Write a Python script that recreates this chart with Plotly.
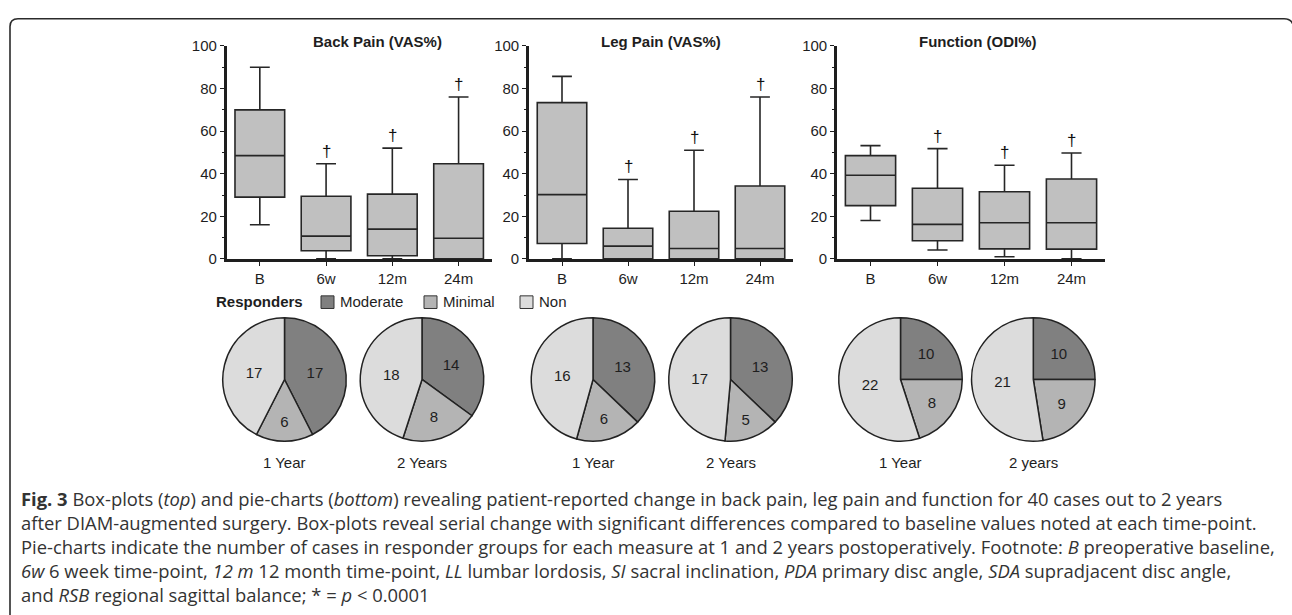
import plotly.graph_objects as go

W, H = 1292, 615

# ---------------- data ----------------
categories = ["B", "6w", "12m", "24m"]

back_lower = [16, 0, 0, 0]
back_q1 = [29, 3.8, 1.5, 0]
back_median = [48.5, 10.7, 14, 9.7]
back_q3 = [70, 29.4, 30.4, 44.7]
back_upper = [90, 44.7, 52, 76]

leg_lower = [0, 0, 0, 0]
leg_q1 = [7.2, 0, 0, 0]
leg_median = [30.2, 6, 4.9, 4.9]
leg_q3 = [73.4, 14.4, 22.4, 34.2]
leg_upper = [85.7, 37.3, 51, 76]

func_lower = [18, 4.2, 1, 0]
func_q1 = [25, 8.5, 4.7, 4.6]
func_median = [39.3, 16.2, 17, 17]
func_q3 = [48.5, 33.2, 31.5, 37.5]
func_upper = [53.2, 51.8, 44, 49.7]

significant = [False, True, True, True]
box_titles = ["Back Pain (VAS%)", "Leg Pain (VAS%)", "Function (ODI%)"]

responder_groups = ["Moderate", "Minimal", "Non"]
back_1y = [17, 6, 17]
back_2y = [14, 8, 18]
leg_1y = [13, 6, 16]
leg_2y = [13, 5, 17]
func_1y = [10, 8, 22]
func_2y = [10, 9, 21]
pie_titles = ["1 Year", "2 Years", "1 Year", "2 Years", "1 Year", "2 years"]

caption_lines = [
    "<b>Fig. 3</b> Box-plots (<i>top</i>) and pie-charts (<i>bottom</i>) revealing patient-reported change in back pain, leg pain and function for 40 cases out to 2 years",
    "after DIAM-augmented surgery. Box-plots reveal serial change with significant differences compared to baseline values noted at each time-point.",
    "Pie-charts indicate the number of cases in responder groups for each measure at 1 and 2 years postoperatively. Footnote: <i>B</i> preoperative baseline,",
    "<i>6w</i> 6 week time-point, <i>12 m</i> 12 month time-point, <i>LL</i> lumbar lordosis, <i>SI</i> sacral inclination, <i>PDA</i> primary disc angle, <i>SDA</i> supradjacent disc angle,",
    "and <i>RSB</i> regional sagittal balance; * = <i>p</i> &lt; 0.0001",
]

# ---------------- styling ----------------
FONT = "Arial"
INK = "#1e1e1e"
BOX_FILL = "#c0c0c0"
PIE_COLORS = ["#808080", "#b4b4b4", "#dcdcdc"]


def X(p):
    return p / W


def Y(p):
    return 1 - p / H


fig = go.Figure()

box_sets = [
    (back_lower, back_q1, back_median, back_q3, back_upper),
    (leg_lower, leg_q1, leg_median, leg_q3, leg_upper),
    (func_lower, func_q1, func_median, func_q3, func_upper),
]
x_domains_px = [(226.7, 491.7), (529, 793), (837, 1105)]
title_x_px = [377, 661, 977]
y_domain = [Y(257), Y(38)]

annotations = []
shapes = []

for i, (lo, q1, med, q3, up) in enumerate(box_sets):
    xa = "x" if i == 0 else f"x{i+1}"
    ya = "y" if i == 0 else f"y{i+1}"
    fig.add_trace(go.Box(
        x=categories, lowerfence=lo, q1=q1, median=med, q3=q3, upperfence=up,
        xaxis=xa, yaxis=ya, fillcolor=BOX_FILL,
        line=dict(color="#262626", width=1.6),
        width=0.75, whiskerwidth=0.4, boxpoints=False, showlegend=False,
    ))
    xkey = "xaxis" if i == 0 else f"xaxis{i+1}"
    ykey = "yaxis" if i == 0 else f"yaxis{i+1}"
    d0, d1 = x_domains_px[i]
    fig.layout[xkey] = dict(
        domain=[X(d0), X(d1)], anchor=ya, type="category",
        categoryorder="array", categoryarray=categories,
        range=[-0.5, 3.5], showline=True, linewidth=2.6, linecolor=INK,
        ticks="outside", ticklen=4, tickwidth=1.3, tickcolor=INK,
        showgrid=False, zeroline=False,
        tickfont=dict(family=FONT, size=15, color=INK), fixedrange=True,
    )
    fig.layout[ykey] = dict(
        domain=y_domain, anchor=xa, range=[0, 100],
        tickvals=[0, 20, 40, 60, 80, 100], showline=True, linewidth=2.6,
        linecolor=INK, ticks="outside", ticklen=4, tickwidth=1.3, tickcolor=INK,
        minor=dict(dtick=10, ticks="outside", ticklen=2, tickwidth=1, tickcolor=INK),
        showgrid=False, zeroline=False,
        tickfont=dict(family=FONT, size=15, color=INK), fixedrange=True,
    )
    # significance daggers
    for c, u, s in zip(categories, up, significant):
        if s:
            annotations.append(dict(
                x=c, y=u, xref=xa, yref=ya, text="†", showarrow=False,
                xanchor="center", yanchor="bottom", yshift=1,
                font=dict(family=FONT, size=17, color="#111111"),
            ))
    annotations.append(dict(
        x=X(title_x_px[i]), y=Y(33), xref="paper", yref="paper",
        xanchor="center", yanchor="middle",
        text=f"<b>{box_titles[i]}</b>", showarrow=False,
        font=dict(family=FONT, size=15, color=INK),
    ))

# ---------------- pies ----------------
pie_values = [back_1y, back_2y, leg_1y, leg_2y, func_1y, func_2y]
pie_cx = [284.5, 422, 593, 730.5, 900.5, 1033.3]
pie_cy, pie_r = 381, 63.5
for vals, cx, t in zip(pie_values, pie_cx, pie_titles):
    fig.add_trace(go.Pie(
        values=vals, labels=responder_groups, sort=False,
        direction="clockwise", rotation=0,
        marker=dict(colors=PIE_COLORS, line=dict(color="#222222", width=1.5)),
        textinfo="value", textposition="inside",
        insidetextorientation="horizontal",
        textfont=dict(family=FONT, size=15, color=INK),
        domain=dict(x=[X(cx - pie_r), X(cx + pie_r)],
                    y=[Y(pie_cy + pie_r), Y(pie_cy - pie_r)]),
        showlegend=False, hoverinfo="label+value",
    ))
    annotations.append(dict(
        x=X(cx), y=Y(466), xref="paper", yref="paper", text=t,
        xanchor="center", yanchor="middle",
        showarrow=False, font=dict(family=FONT, size=15, color=INK),
    ))

# ---------------- legend (custom) ----------------
annotations.append(dict(
    x=X(214), y=Y(301), xref="paper", yref="paper", xanchor="left",
    yanchor="middle", text="<b>Responders</b>", showarrow=False,
    font=dict(family=FONT, size=15, color=INK),
))
swatch_x = [321, 424, 520]
for g, col, sx in zip(responder_groups, PIE_COLORS, swatch_x):
    shapes.append(dict(
        type="rect", xref="paper", yref="paper",
        x0=X(sx), x1=X(sx + 13), y0=Y(308), y1=Y(295),
        fillcolor=col, line=dict(color="#333333", width=1),
    ))
    annotations.append(dict(
        x=X(sx + 17), y=Y(301), xref="paper", yref="paper", xanchor="left",
        yanchor="middle", text=g, showarrow=False,
        font=dict(family=FONT, size=15, color=INK),
    ))

# ---------------- caption (one multi-line text) ----------------
annotations.append(dict(
    x=X(19), y=Y(552.5), xref="paper", yref="paper", xanchor="left",
    yanchor="middle", align="left", text="<br>".join(caption_lines),
    showarrow=False,
    font=dict(family="Open Sans", size=18.4, color="#333333"),
))

# ---------------- frame ----------------
def P(x, y):
    return f"{X(x):.5f},{Y(y):.5f}"

frame_path = (
    f"M {P(10, 640)} L {P(10, 18)} Q {P(10, 10)} {P(18, 10)} "
    f"L {P(1284, 10)} Q {P(1291, 10)} {P(1293, 16)}"
)
shapes.append(dict(type="path", xref="paper", yref="paper", path=frame_path,
                   line=dict(color="#2b2b2b", width=1.6)))

fig.update_layout(
    width=W, height=H, margin=dict(l=0, r=0, t=0, b=0),
    paper_bgcolor="white", plot_bgcolor="white",
    annotations=annotations, shapes=shapes, showlegend=False,
)

fig.write_html(
    "out.html",
    config={"displayModeBar": False},
    post_script="document.body.style.margin='0px';",
)
